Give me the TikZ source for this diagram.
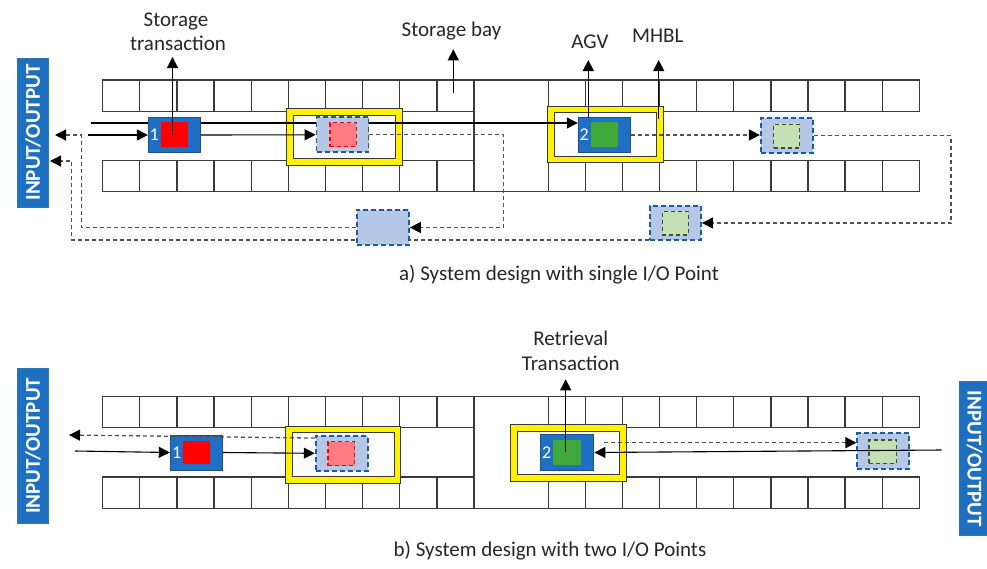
\documentclass[tikz,border=0pt]{standalone}
\usepackage{fontspec}
\setmainfont{Carlito}
\usetikzlibrary{arrows.meta,calc}
\definecolor{ioblue}{HTML}{1F6FC1}
\definecolor{ioedge}{HTML}{2E75B6}
\definecolor{agvblue}{HTML}{1F6FC5}
\definecolor{agvedge}{HTML}{1F4E8C}
\definecolor{ltblue}{HTML}{B4C7E7}
\definecolor{ltbedge}{HTML}{1F5A9E}
\definecolor{pinkload}{HTML}{FF7C80}
\definecolor{greenload}{HTML}{41A93B}
\definecolor{ltgreen}{HTML}{C5E0B4}
\definecolor{dkgreen}{HTML}{385723}
\definecolor{gridgray}{HTML}{3A3A3A}
\definecolor{wiregray}{HTML}{505050}
\definecolor{txt}{HTML}{262626}
\pgfdeclarelayer{gridlayer}
\pgfdeclarelayer{frames}
\pgfdeclarelayer{wires}
\pgfdeclarelayer{front}
\pgfsetlayers{gridlayer,frames,wires,main,front}
\tikzset{
  gridline/.style={draw=gridgray, line width=1.3},
  ioblock/.style={fill=ioblue, draw=ioedge, line width=1, inner sep=0, minimum height=30.6, text=white, font=\bfseries\fontsize{21}{25}\selectfont},
  yframe/.style={fill=yellow, draw=gridgray, line width=0.9, inner sep=0},
  yinner/.style={fill=white, draw=gridgray, line width=0.9, inner sep=0},
  agv/.style={fill=agvblue, draw=agvedge, line width=1, inner sep=0, minimum width=52, minimum height=35.4},
  redload/.style={fill=red, draw=none, inner sep=0, minimum width=26.7, minimum height=24.2},
  grnload/.style={fill=greenload, draw=none, inner sep=0, minimum width=27.3, minimum height=24.4},
  slot/.style={fill=ltblue, draw=ltbedge, line width=1.8, dash pattern=on 5 off 3, inner sep=0, minimum width=52, minimum height=35},
  pinkslot/.style={fill=pinkload, draw=red, line width=1.5, dash pattern=on 4 off 3, inner sep=0, minimum width=26.5, minimum height=24},
  grnslot/.style={fill=ltgreen, draw=dkgreen, line width=1.5, dash pattern=on 4 off 3, inner sep=0, minimum width=26, minimum height=23.5},
  num/.style={text=white, font=\fontsize{18}{20}\selectfont, inner sep=0},
  lbl/.style={text=txt, font=\fontsize{21}{25}\selectfont, inner sep=0, anchor=base},
  solidarrow/.style={draw=black, line width=1.1, -{Triangle[length=11,width=11]}},
  dasharrow/.style={draw=wiregray, line width=1.3, dash pattern=on 4 off 3, -{Triangle[length=11,width=11,color=black]}}
}
\newcommand{\myrack}[4]{%
  \foreach \k in {0,...,9}{
    \draw[gridline] ({102.7+37.13*\k},#1) rectangle ({102.7+37.13*(\k+1)},#2);
    \draw[gridline] ({102.7+37.13*\k},#3) rectangle ({102.7+37.13*(\k+1)},#4);
    \draw[gridline] ({548.3+37.1*\k},#1) rectangle ({548.3+37.1*(\k+1)},#2);
    \draw[gridline] ({548.3+37.1*\k},#3) rectangle ({548.3+37.1*(\k+1)},#4);
  }
  \draw[gridline] (474,#1) -- (548.3,#1);
  \draw[gridline] (474,#4) -- (548.3,#4);
  \draw[gridline] (474,#1) -- (474,#4);
  \draw[gridline] (548.3,#1) -- (548.3,#4);
}
\begin{document}
\begin{tikzpicture}[x=1pt,y=-1pt]
\useasboundingbox (0,0) rectangle (987,568);

% ---------------- grids
\begin{pgfonlayer}{gridlayer}
  \myrack{80}{111.5}{160.5}{191.7}
  \myrack{396.7}{427.7}{477}{508.3}
\end{pgfonlayer}

% ---------------- yellow frames (MHBL)
\begin{pgfonlayer}{frames}
  \node[yframe, minimum width=115.6, minimum height=57.4] (Y1a) at (344.5,137) {};
  \node[yinner, minimum width=101.7, minimum height=43.3] (Y1ai) at (344.3,136.7) {};
  \node[yframe, minimum width=116, minimum height=56.7] (Y2a) at (605.3,134.3) {};
  \node[yinner, minimum width=102.7, minimum height=43.3] (Y2ai) at (605.3,134.3) {};
  \node[yframe, minimum width=115, minimum height=57.3] (Y1b) at (343.2,454.7) {};
  \node[yinner, minimum width=101.7, minimum height=43.3] (Y1bi) at (343.2,454.3) {};
  \node[yframe, minimum width=116.7, minimum height=57.7] (Y2b) at (568.3,452.8) {};
  \node[yinner, minimum width=102, minimum height=43.3] (Y2bi) at (568.3,452.7) {};
\end{pgfonlayer}

% ---------------- part a: blocks
\node[ioblock, rotate=90, minimum width=149] (IOa) at (33,132.5) {INPUT/OUTPUT};
\node[agv] (AGV1a) at (174.3,135) {};
\node[redload] (redA) at (174.3,134.5) {};
\node[num] (n1a) at ($(AGV1a.west)+(6.3,0)$) {1};
\node[slot] (P1a) at (342.5,134.8) {};
\node[pinkslot] (pinkA) at (343,134.5) {};
\node[agv, minimum width=52.4] (AGV2a) at (604.5,135) {};
\node[grnload] (greenA) at (604.7,134.5) {};
\node[num] (n2a) at ($(AGV2a.west)+(6.3,0)$) {2};
\node[slot] (G1a) at (786.8,135.8) {};
\node[grnslot] (G1ai) at (786.7,136.2) {};
\node[slot, minimum width=51, minimum height=34] (G2a) at (675.5,223) {};
\node[grnslot] (G2ai) at (675.3,223.2) {};
\node[slot, minimum width=52.3] (B3a) at (382.8,227.5) {};

% ---------------- part a: connectors
\begin{pgfonlayer}{wires}
  \coordinate (inA1) at (91,123);
  \draw[solidarrow] (inA1) -- (inA1 -| AGV2a.west);
  \coordinate (inA2) at (88,135);
  \draw[solidarrow] (inA2) -- (AGV1a.west);
  \draw[solidarrow] (AGV1a.east) -- (P1a.west);
  \draw[dasharrow] (P1a.east) -- ++(134.4,0) |- (B3a.east);
  \coordinate (outA1) at (55,135);
  \draw[dasharrow] (B3a.west) -| ($(outA1)+(26.7,0)$) -- (outA1);
  \draw[dasharrow] (AGV2a.east) -- (AGV2a.east -| G1a.west);
  \draw[dasharrow] (G1a.east) -- ++(137.3,0) |- (G2a.east);
  \coordinate (outA2) at (50,161);
  \draw[dasharrow] ($(G2a.south west)+(0,-1)$) -| ($(outA2)+(21.7,0)$) -- (outA2);
\end{pgfonlayer}

% ---------------- part a: labels
\node[lbl] (tStorage) at (176,26) {Storage};
\node[lbl] (tTransaction) at (178,50.7) {transaction};
\node[lbl] (tBay) at (451.5,36) {Storage bay};
\node[lbl] (tAGV) at (590,48.3) {AGV};
\node[lbl] (tMHBL) at (657.7,42.7) {MHBL};
\node[lbl] (capA) at (559,280.5) {a) System design with single I/O Point};
\begin{pgfonlayer}{front}
  \coordinate (stTip) at (172.5,57);
  \draw[solidarrow] (stTip |- redA.center) -- (stTip);
  \coordinate (sbTail) at (453.3,92.7);
  \coordinate (sbTip) at (453.3,49.3);
  \draw[solidarrow] (sbTail) -- (sbTip);
  \coordinate (agvTip) at (588.3,60);
  \draw[solidarrow] (agvTip |- AGV2a.north) -- (agvTip);
  \coordinate (mhTip) at (658.7,60);
  \draw[solidarrow] ($(mhTip |- Y2ai.north)+(0,6.6)$) -- (mhTip);
\end{pgfonlayer}

% ---------------- part b: blocks
\node[ioblock, rotate=90, minimum width=155] (IObL) at (33,445.8) {INPUT/OUTPUT};
\node[ioblock, rotate=-90, minimum width=154.3] (IObR) at (974.6,458.8) {INPUT/OUTPUT};
\node[agv, minimum height=35] (AGV1b) at (196.3,452.5) {};
\node[redload, minimum height=23.6] (redB) at (196.3,452.5) {};
\node[num] (n1b) at ($(AGV1b.west)+(6.8,0)$) {1};
\node[slot, minimum height=34.7] (P1b) at (341.7,453.3) {};
\node[pinkslot] (pinkB) at (341.3,453.7) {};
\node[agv, minimum width=53.3, minimum height=35.6] (AGV2b) at (567.3,452.5) {};
\node[grnload, minimum width=27.7, minimum height=24.7] (greenB) at (567.2,452.3) {};
\node[num] (n2b) at ($(AGV2b.west)+(6.5,0)$) {2};
\node[slot, minimum height=35.7] (G1b) at (883.3,451.2) {};
\node[grnslot, minimum width=27.7, minimum height=23.3] (G1bi) at (882.8,451.7) {};

% ---------------- part b: connectors
\begin{pgfonlayer}{wires}
  \coordinate (inB1) at (75,451);
  \draw[solidarrow] (inB1) -- (AGV1b.west);
  \draw[solidarrow] (AGV1b.east) -- (P1b.west);
  \coordinate (dB) at ($(AGV2b.east)+(9.3,-9.8)$);
  \draw[dasharrow] (dB) -- (dB -| G1b.west);
\end{pgfonlayer}
\begin{pgfonlayer}{front}
  \coordinate (outB1) at (69,435);
  \draw[dasharrow] ($(P1b.north west)+(0,3)$) -- (outB1);
  \coordinate (inB2) at (941.7,450);
  \draw[solidarrow] (inB2) -- (AGV2b.east);
  \coordinate (rtTip) at (565.7,379.3);
  \draw[solidarrow] (rtTip |- greenB.center) -- (rtTip);
\end{pgfonlayer}

% ---------------- part b: labels
\node[lbl] (tRetrieval) at (570.8,345) {Retrieval};
\node[lbl] (tTransB) at (570.8,370.7) {Transaction};
\node[lbl] (capB) at (550,556) {b) System design with two I/O Points};
\end{tikzpicture}
\end{document}
